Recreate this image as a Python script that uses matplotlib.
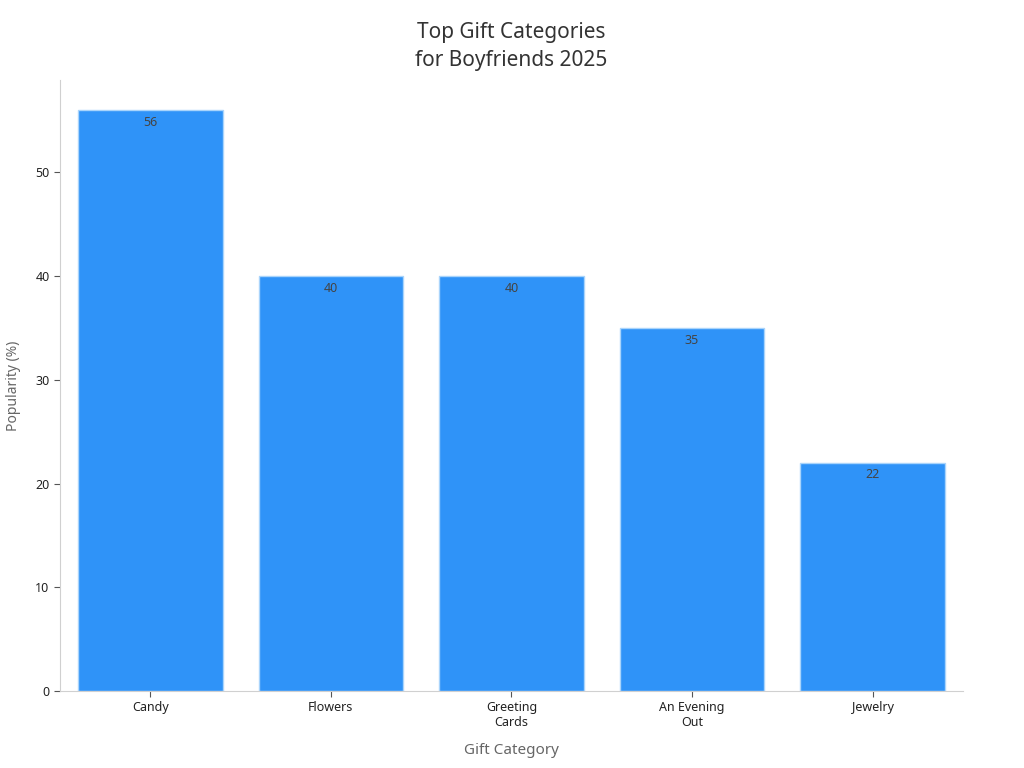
import matplotlib
matplotlib.use("Agg")
import matplotlib.pyplot as plt
import numpy as np

plt.rcParams['font.family'] = ['Noto Sans', 'DejaVu Sans']

categories = ['Candy', 'Flowers', 'Greeting\nCards', 'An Evening\nOut', 'Jewelry']
popularity = [56, 40, 40, 35, 22]

fig, ax = plt.subplots(figsize=(10.24, 7.68), dpi=100)
fig.subplots_adjust(left=0.0586, right=0.9404, top=0.8958, bottom=0.1003)

x = np.arange(len(categories))
bars = ax.bar(x, popularity, width=0.8, color='#2f93f8', edgecolor='#a9d4fb', linewidth=1)

for xi, v in zip(x, popularity):
    ax.text(xi, v - 0.55, str(v), ha='center', va='top', fontsize=9, color='#444444')

ax.set_xlim(-0.5, 4.5)
ax.set_ylim(0, 58.9)
ax.set_xticks(x)
ax.set_xticklabels(categories, fontsize=9, color='#222222')
ax.set_yticks([0, 10, 20, 30, 40, 50])
ax.tick_params(axis='y', labelsize=9, labelcolor='#222222', color='#555555', length=4)
ax.tick_params(axis='x', color='#555555', length=4)

for s in ['top', 'right']:
    ax.spines[s].set_visible(False)
for s in ['left', 'bottom']:
    ax.spines[s].set_color('#d0d0d0')

ax.set_xlabel('Gift Category', fontsize=11, color='#666666', labelpad=10)
ax.set_ylabel('Popularity (%)', fontsize=10, color='#666666', labelpad=10)
ax.set_title('Top Gift Categories\nfor Boyfriends 2025', fontsize=15, color='#333333',
             pad=10, linespacing=1.45)

fig.savefig('out.png', dpi=100)
